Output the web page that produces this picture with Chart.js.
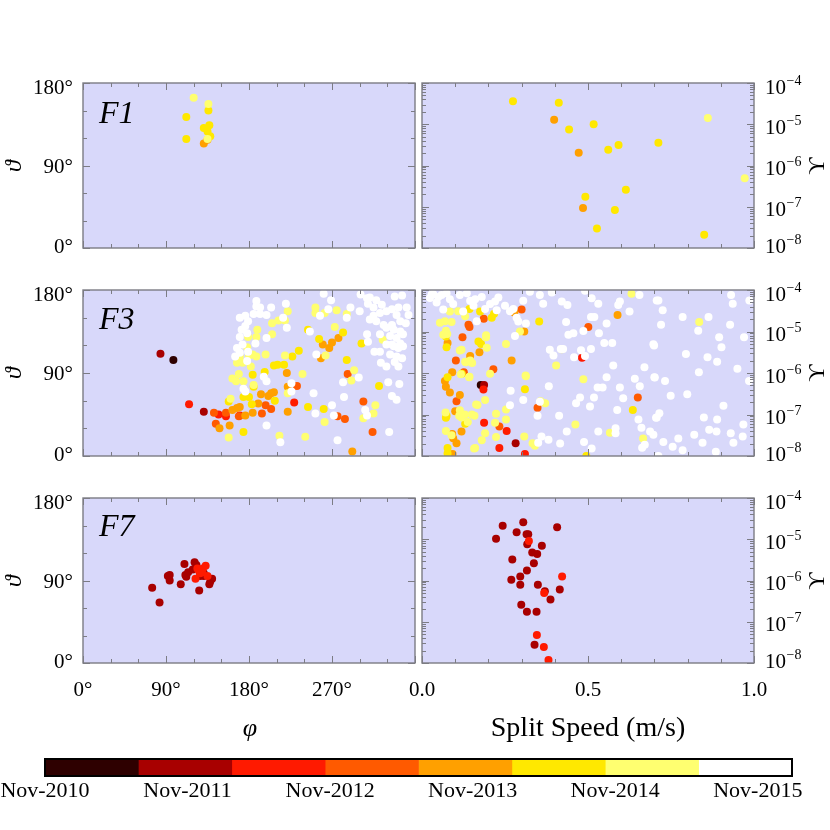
<!DOCTYPE html>
<html><head><meta charset="utf-8">
<script src="https://cdn.jsdelivr.net/npm/chart.js@4.4.1/dist/chart.umd.min.js"></script>
<style>
html,body{margin:0;padding:0;background:#fff;}
#wrap{position:relative;width:830px;height:830px;overflow:hidden;font-family:'Liberation Serif','DejaVu Serif',serif;}
#wrap canvas{position:absolute;left:0;top:0;}
.t{position:absolute;color:#000;white-space:nowrap;line-height:1;transform:translate(-50%,-50%);}
.rot{transform:translate(-50%,-50%) rotate(-90deg);}
.it{font-style:italic;}
</style></head><body><div id="wrap"></div>
<script>
// ---------- DATA ----------
const dateColors = ['#2e0000','#a80000','#ff1a00','#ff5a00','#ffa000','#ffe800','#ffff70','#ffffff'];
const dateTickLabels = ['Nov-2010','Nov-2011','Nov-2012','Nov-2013','Nov-2014','Nov-2015'];
const dateTickYears = [0,1,2,3,4,5];
const colorEdgesYears = [0,0.655,1.31,1.965,2.62,3.275,3.93,4.585,5.24];
const angleTickLabels = ['0°','90°','180°','270°'];
const speedTickLabels = ['0.0','0.5','1.0'];
const thetaTickLabels = ['180°','90°','0°'];
const upsilonExponents = [-4,-5,-6,-7,-8];

// [phi(deg), theta(deg), colourClass]
const f1Angles = [[120,164,6],[136,157,6],[136,150,5],[112,143,5],[137,134,5],[131,131,5],[135,127,5],[138,122,5],[112,119,5],[135,119,6],[135,118,4],[131,114,4]];
// [split speed (m/s), log10(Upsilon), colourClass]
const f1Split = [[0.274,-4.44,5],[0.412,-4.48,5],[0.398,-4.89,4],[0.517,-5.00,5],[0.443,-5.13,5],[0.861,-4.85,6],[0.592,-5.50,5],[0.561,-5.62,5],[0.712,-5.45,5],[0.472,-5.69,4],[0.972,-6.31,6],[0.614,-6.59,5],[0.492,-6.76,5],[0.485,-7.03,4],[0.581,-7.08,5],[0.527,-7.53,5],[0.850,-7.68,5]];

const f3Angles = [
[84,111,1],[98,104,0],[115,56,2],[131,48,1],[142,47,3],[147,45,2],[155,47,3],[155,43,2],[144,35,3],[148,30,4],[159,33,4],[158,20,6],[174,26,5],[169,43,3],[170,44,2],[176,44,4],[162,50,4],[167,52,4],[170,53,4],[158,59,5],[160,62,6],[174,64,5],[180,64,5],[193,67,4],[190,57,4],[198,55,3],[201,65,4],[204,68,4],[207,69,4],[208,60,5],[204,51,3],[194,46,3],[184,47,4],[183,56,5],[185,75,5],[197,91,5],[184,88,5],[221,90,4],[222,75,4],[232,76,3],[222,68,6],[229,58,2],[222,48,4],[238,89,6],[244,53,5],[241,21,6],[213,22,6],[207,98,5],[211,99,5],[218,99,5],[219,109,6],[227,108,5],[234,114,5],[198,110,6],[188,108,6],[184,110,6],[180,109,6],[189,137,6],[205,132,6],[205,144,6],[212,147,6],[219,147,6],[222,157,6],[179,129,6],[188,129,6],[178,118,6],[167,101,6],[170,108,6],[173,101,6],[162,84,6],[166,81,6],[169,89,6],[174,81,6],[185,77,6],[182,97,6],
[244,137,5],[252,161,6],[252,155,6],[262,155,6],[275,158,6],[286,154,6],[273,140,6],[256,127,5],[260,121,4],[267,117,4],[270,123,4],[277,128,4],[282,134,5],[258,106,4],[263,109,6],[286,104,5],[302,122,5],[325,126,6],[321,76,5],[287,89,3],[291,82,6],[294,93,6],[304,59,3],[317,55,6],[315,46,6],[304,41,6],[314,26,3],[276,43,3],[284,40,3],[262,37,6],[261,51,5],[292,5,4],
[188,168,7],[188,162,7],[192,161,7],[204,161,7],[220,165,7],[199,153,7],[192,154,7],[185,154,7],[176,152,7],[170,150,7],[179,146,7],[176,141,7],[172,137,7],[178,133,7],[170,129,7],[187,122,7],[173,121,7],[167,117,7],[170,112,7],[165,108,7],[179,113,7],[178,103,7],[199,128,7],[217,150,7],[221,139,7],[174,73,7],[176,70,7],[196,86,7],[199,81,7],[226,79,7],[199,33,7],[214,15,7],[252,46,7],[270,55,7],[272,44,7],[276,17,7],[253,110,7],[246,135,7],[261,176,7],[269,169,7],[257,152,7],[266,159,7],[290,161,7],[301,175,7],[308,171,7],[318,169,7],[309,165,7],[315,161,7],[338,173,7],[346,174,7],[351,161,7],[342,161,7],[335,159,7],[329,157,7],[322,155,7],[315,152,7],[311,148,7],[318,146,7],[344,146,7],[350,144,7],[329,139,7],[337,137,7],[344,135,7],[322,132,7],[333,130,7],[340,128,7],[347,132,7],[308,132,7],[309,124,7],[316,113,7],[323,101,7],[329,121,7],[335,121,7],[342,117,7],[347,119,7],[322,113,7],[333,110,7],[338,102,7],[342,97,7],[329,97,7],[340,108,7],[346,106,7],[300,157,7],[286,150,7],[282,80,7],[283,64,7],[299,85,7],[331,80,7],[343,78,7],[335,65,7],[340,61,7],[306,50,7],[308,44,7],[332,26,7],[311,172,7],[324,164,7],[340,153,7],[353,153,7],[337,119,7],[344,122,7],[335,142,7],[326,142,7],[250,68,7],[226,70,7]
];

const f3Split = [
[0.300,-4.47,3],[0.278,-4.54,4],[0.186,-4.69,3],[0.140,-4.84,3],[0.143,-4.89,3],[0.122,-5.14,3],[0.077,-5.28,4],[0.074,-5.38,5],[0.072,-5.12,5],[0.064,-5.08,6],[0.170,-5.24,5],[0.178,-5.30,5],[0.193,-5.14,6],[0.195,-5.39,6],[0.173,-5.50,4],[0.145,-5.59,4],[0.132,-5.74,6],[0.151,-5.76,6],[0.102,-5.70,3],[0.119,-5.44,6],[0.253,-5.30,6],[0.270,-5.70,4],[0.215,-5.91,3],[0.091,-5.98,4],[0.117,-6.03,6],[0.126,-5.98,3],[0.143,-6.09,6],[0.205,-6.02,6],[0.069,-6.19,4],[0.072,-6.33,4],[0.084,-6.47,4],[0.114,-6.53,4],[0.104,-6.68,3],[0.100,-6.92,4],[0.114,-6.90,6],[0.129,-7.00,6],[0.071,-6.95,6],[0.072,-7.08,5],[0.150,-7.00,6],[0.177,-6.29,0],[0.187,-6.29,1],[0.185,-6.40,2],[0.190,-6.65,6],[0.163,-6.76,6],[0.310,-6.39,5],[0.312,-6.06,6],[0.357,-6.68,6],[0.348,-6.84,3],[0.187,-7.20,2],[0.190,-7.45,6],[0.220,-7.20,6],[0.233,-7.29,3],[0.255,-7.40,2],[0.253,-7.12,6],[0.282,-7.69,1],[0.233,-7.81,2],[0.223,-7.54,6],[0.308,-7.53,6],[0.310,-7.95,2],[0.333,-7.69,6],[0.340,-7.75,6],[0.160,-7.81,6],[0.119,-7.41,4],[0.091,-7.47,4],[0.094,-7.57,4],[0.104,-7.69,4],[0.092,-7.95,4],[0.077,-7.81,5],[0.089,-7.50,6],[0.138,-7.18,6],[0.072,-7.40,6],[0.353,-4.76,5],[0.308,-5.00,4],[0.295,-5.00,6],[0.501,-4.89,3],[0.421,-5.43,6],[0.482,-5.63,2],[0.404,-5.82,6],[0.486,-6.15,6],[0.462,-7.24,6],[0.495,-8.00,5],[0.589,-4.60,4],[0.631,-4.09,6],[0.835,-4.77,6],[0.650,-6.59,3],[0.635,-6.89,5],[0.566,-7.44,6],[0.666,-7.58,6],[0.371,-6.73,6],
[0.054,-4.79,6],[0.069,-4.75,6],[0.089,-4.77,6],[0.072,-4.98,6],[0.076,-5.06,6],[0.084,-4.52,6],[0.109,-4.51,6],[0.130,-4.63,6],[0.143,-4.46,5],[0.175,-4.52,5],[0.210,-4.67,5],[0.217,-4.57,5],[0.193,-5.09,6],[0.114,-5.46,6],[0.130,-5.73,6],[0.145,-5.70,6],[0.120,-6.02,5],[0.142,-6.10,6],[0.077,-6.10,5],[0.313,-6.08,6],[0.167,-6.77,6],[0.253,-6.88,6],[0.223,-6.98,6],[0.074,-7.03,5],[0.112,-7.03,6],[0.119,-7.07,6],[0.130,-7.22,5],[0.158,-7.03,6],[0.180,-7.62,6],[0.157,-7.82,6],[0.077,-7.94,5],
[0.034,-4.10,7],[0.049,-4.17,7],[0.044,-4.30,7],[0.074,-4.08,7],[0.084,-4.22,7],[0.094,-4.34,7],[0.114,-4.12,7],[0.135,-4.08,7],[0.145,-4.26,7],[0.160,-4.22,7],[0.155,-4.38,7],[0.180,-4.17,7],[0.205,-4.34,7],[0.220,-4.28,7],[0.230,-4.18,7],[0.250,-4.38,7],[0.265,-4.51,7],[0.285,-4.67,7],[0.290,-4.76,7],[0.313,-4.81,7],[0.305,-4.26,7],[0.325,-4.04,7],[0.190,-4.46,7],[0.124,-4.52,7],[0.165,-4.75,7],[0.225,-4.49,7],[0.275,-4.46,7],[0.280,-5.11,7],[0.267,-6.43,7],[0.064,-4.47,7],[0.029,-4.11,7],[0.059,-4.12,7],[0.024,-4.19,7],[0.265,-6.78,7],[0.305,-6.65,7],
[0.355,-4.12,7],[0.391,-4.06,7],[0.365,-4.33,7],[0.421,-4.28,7],[0.438,-4.36,7],[0.491,-4.02,7],[0.511,-4.20,7],[0.531,-4.33,7],[0.596,-4.28,7],[0.591,-4.36,7],[0.655,-4.12,7],[0.625,-4.52,7],[0.707,-4.25,7],[0.434,-4.77,7],[0.509,-4.65,7],[0.519,-4.65,7],[0.556,-4.81,7],[0.486,-4.99,7],[0.456,-5.04,7],[0.441,-5.08,7],[0.533,-5.04,7],[0.549,-5.28,7],[0.573,-5.28,7],[0.697,-5.31,7],[0.385,-5.44,7],[0.396,-5.58,7],[0.418,-5.42,7],[0.425,-5.42,7],[0.458,-5.62,7],[0.479,-5.45,7],[0.491,-5.59,7],[0.509,-5.42,7],[0.576,-5.82,7],[0.670,-5.86,7],[0.700,-6.10,7],[0.556,-6.10,7],[0.641,-6.14,7],[0.656,-6.32,7],[0.382,-6.32,7],[0.529,-6.35,7],[0.544,-6.35,7],[0.596,-6.35,7],[0.476,-6.59,7],[0.518,-6.59,7],[0.606,-6.61,7],[0.464,-6.73,7],[0.506,-6.81,7],[0.355,-6.69,7],[0.348,-7.03,7],[0.413,-7.03,7],[0.588,-6.89,7],[0.652,-7.12,7],[0.705,-7.08,7],[0.360,-7.53,7],[0.381,-7.61,7],[0.350,-7.68,7],[0.436,-7.41,7],[0.416,-7.70,7],[0.488,-7.66,7],[0.511,-7.82,7],[0.531,-7.41,7],[0.583,-7.33,7],[0.583,-7.45,7],[0.661,-7.32,7],[0.687,-7.41,7],[0.697,-7.49,7],[0.671,-7.73,7],[0.663,-7.80,7],
[0.931,-4.12,7],[0.936,-4.33,7],[0.986,-4.25,7],[0.712,-4.25,7],[0.725,-4.49,7],[0.720,-4.84,7],[0.785,-4.65,7],[0.863,-4.65,7],[0.832,-4.98,7],[0.928,-4.84,7],[0.895,-5.14,7],[0.970,-5.14,7],[0.902,-5.38,7],[0.699,-5.34,7],[0.795,-5.54,7],[0.860,-5.62,7],[0.889,-5.73,7],[0.950,-5.90,7],[0.834,-5.98,7],[0.701,-6.11,7],[0.732,-6.19,7],[0.985,-6.19,7],[0.749,-6.55,7],[0.799,-6.51,7],[0.908,-6.79,7],[0.715,-6.97,7],[0.707,-7.07,7],[0.849,-7.07,7],[0.889,-7.12,7],[0.968,-7.24,7],[0.865,-7.37,7],[0.887,-7.41,7],[0.930,-7.45,7],[0.966,-7.53,7],[0.820,-7.49,7],[0.938,-7.68,7],[0.845,-7.68,7],[0.772,-7.58,7],[0.755,-7.78,7],[0.785,-7.86,7],[0.727,-7.66,7],[0.885,-7.90,7],[0.712,-8.00,7]
];

const f7Angles = [[75,82,1],[83,66,1],[92,95,1],[94,96,1],[94,90,1],[106,86,1],[110,108,1],[111,96,1],[112,94,1],[114,99,1],[119,102,1],[121,110,1],[123,107,1],[126,79,1],[131,98,1],[131,95,1],[127,95,1],[137,86,1],[138,89,1],[140,92,1],[124,103,2],[126,100,2],[122,92,2],[127,98,2],[130,103,2],[133,106,2],[135,95,2],[129,99,2]];
const f7Split = [[0.243,-4.67,1],[0.305,-4.59,1],[0.407,-4.71,1],[0.285,-4.83,1],[0.315,-4.88,1],[0.320,-4.88,1],[0.223,-4.99,1],[0.322,-5.04,2],[0.317,-5.12,1],[0.361,-5.16,1],[0.332,-5.32,1],[0.347,-5.36,1],[0.272,-5.49,1],[0.337,-5.58,1],[0.316,-5.76,1],[0.296,-5.90,1],[0.422,-5.90,2],[0.269,-5.98,1],[0.296,-6.10,1],[0.349,-6.10,1],[0.370,-6.26,1],[0.368,-6.30,2],[0.415,-6.22,1],[0.387,-6.46,1],[0.299,-6.59,1],[0.316,-6.76,1],[0.345,-6.76,1],[0.346,-7.32,2],[0.339,-7.56,1],[0.367,-7.61,2],[0.381,-7.93,2]];

// ---------- LAYOUT / STYLE ----------
const FONT = "'Liberation Serif','DejaVu Serif',serif";
const W = 830, H = 830;
const PANEL_BG = '#d8d8fa';
const FRAME = '#7c7c84';
const wrap = document.getElementById('wrap');

function tickList(kind, axis){
  const out = [];
  if (kind==='angle' && axis==='x'){ for(let v=0; v<=360; v+=30) out.push([v, v%90===0]); }
  else if (kind==='angle' && axis==='y'){ for(let v=0; v<=180; v+=30) out.push([v, v%90===0]); }
  else if (kind==='split' && axis==='x'){ for(let i=0;i<=10;i++) out.push([i/10, i%5===0]); }
  else { for(let e=-8;e<=-5;e++) for(let k=1;k<=9;k++) out.push([k*Math.pow(10,e), k===1]); out.push([1e-4,true]); }
  return out;
}

const deco = {
  id:'deco',
  beforeDatasetsDraw(chart, args, o){
    const {ctx, chartArea:a} = chart;
    ctx.save(); ctx.fillStyle = PANEL_BG; ctx.fillRect(a.left, a.top, a.width, a.height); ctx.restore();
  },
  afterDatasetsDraw(chart, args, o){
    const {ctx, chartArea:a, scales} = chart;
    ctx.save();
    ctx.strokeStyle = FRAME; ctx.lineWidth = 1;
    ctx.beginPath();
    for (const [v,major] of o.xTicks){
      const x = Math.round(scales.x.getPixelForValue(v))+0.5;
      const L = major?7:4;
      ctx.moveTo(x,a.bottom); ctx.lineTo(x,a.bottom-L);
      ctx.moveTo(x,a.top); ctx.lineTo(x,a.top+L);
    }
    for (const [v,major] of o.yTicks){
      const y = Math.round(scales.y.getPixelForValue(v))+0.5;
      const L = major?7:4;
      ctx.moveTo(a.left,y); ctx.lineTo(a.left+L,y);
      ctx.moveTo(a.right,y); ctx.lineTo(a.right-L,y);
    }
    ctx.stroke();
    ctx.lineWidth = 1.4;
    ctx.strokeRect(a.left, a.top, a.width, a.height);
    ctx.restore();
  },
  afterDraw(chart, args, o){
    const {ctx, chartArea:a, scales:{y}} = chart;
    ctx.save(); ctx.fillStyle = '#000'; ctx.textBaseline = 'alphabetic';
    if (o.kind==='angle'){
      ctx.font = '21px '+FONT; ctx.textAlign = 'right';
      const vals = [180,90,0];
      vals.forEach((v,i)=>{
        const py = y.getPixelForValue(v);
        const off = i===0 ? 10.5 : (i===vals.length-1 ? 4.5 : 7);
        ctx.fillText(thetaTickLabels[i], a.left-10, py+off);
      });
    } else {
      ctx.textAlign = 'left';
      upsilonExponents.forEach((e,i)=>{
        const py = y.getPixelForValue(Math.pow(10,e));
        const off = i===0 ? 11 : (i===upsilonExponents.length-1 ? 5 : 9.5);
        const x0 = a.right+11;
        ctx.font = '21px '+FONT;
        ctx.fillText('10', x0, py+off);
        const w = ctx.measureText('10').width;
        ctx.font = '14px '+FONT;
        ctx.fillText('\u2212'+Math.abs(e), x0+w+0.5, py+off-9);
      });
    }
    ctx.restore();
  }
};

function makePanel(p){
  const cv = document.createElement('canvas'); cv.width=W; cv.height=H; wrap.appendChild(cv);
  const [l,t,r,b] = p.rect;
  const isAngle = p.kind==='angle';
  const pts = p.data.map(d=>({x:d[0], y: isAngle ? d[1] : Math.pow(10,d[1]), c:d[2]}))
                   .sort((m,n)=>m.c-n.c);
  const xH = p.xLabels ? 45 : 0;
  new Chart(cv, {
    type:'scatter',
    data:{datasets:[{data:pts, showLine:false, clip:0,
      pointRadius:4, pointHoverRadius:4, pointBorderWidth:0, borderWidth:0,
      pointBackgroundColor: ctx => dateColors[ctx.raw ? ctx.raw.c : 0],
      pointBorderColor: 'rgba(0,0,0,0)'}]},
    options:{
      responsive:false, animation:false, events:[],
      layout:{padding:{left:l, top:t, right:W-r, bottom:H-b-xH}},
      plugins:{legend:{display:false}, tooltip:{enabled:false},
        deco:{kind:p.kind, xTicks:tickList(p.kind,'x'), yTicks:tickList(p.kind,'y')}},
      scales:{
        x:{type:'linear', min:0, max: isAngle?360:1, display:p.xLabels,
           grid:{display:false}, border:{display:false},
           afterBuildTicks: s => { s.ticks = (isAngle?[0,90,180,270]:[0,0.5,1]).map(v=>({value:v})); },
           ticks:{autoSkip:false, maxRotation:0, color:'#000', padding:7,
             font:{family:FONT, size:21},
             callback:(v,i)=> isAngle ? angleTickLabels[i] : speedTickLabels[i]},
           afterFit: s => { s.height = xH; }},
        y: isAngle ? {type:'linear', min:0, max:180, display:false}
                   : {type:'logarithmic', min:1e-8, max:1e-4, display:false}
      }
    },
    plugins:[deco]
  });
}

const panels = [
  {rect:[83,83,415,248],  data:f1Angles, kind:'angle', xLabels:false},
  {rect:[422,83,754,248], data:f1Split,  kind:'split', xLabels:false},
  {rect:[83,290,415,456], data:f3Angles, kind:'angle', xLabels:false},
  {rect:[422,290,754,456],data:f3Split,  kind:'split', xLabels:false},
  {rect:[83,498,415,663], data:f7Angles, kind:'angle', xLabels:true},
  {rect:[422,498,754,663],data:f7Split,  kind:'split', xLabels:true}
];
panels.forEach(makePanel);

// ---------- COLOURBAR ----------
const cbFrame = {
  id:'cbFrame',
  afterDatasetsDraw(chart){
    const {ctx, chartArea:a} = chart;
    ctx.save(); ctx.strokeStyle='#000'; ctx.lineWidth=2;
    ctx.strokeRect(a.left, a.top, a.width, a.height); ctx.restore();
  }
};
(function(){
  const cv = document.createElement('canvas'); cv.width=W; cv.height=H; wrap.appendChild(cv);
  new Chart(cv, {
    type:'bar',
    data:{labels:[''], datasets: dateColors.map((c,i)=>({
      data:[[colorEdgesYears[i], colorEdgesYears[i+1]]], backgroundColor:c, borderWidth:0,
      barPercentage:1, categoryPercentage:1, grouped:false}))},
    options:{
      indexAxis:'y', responsive:false, animation:false, events:[],
      layout:{padding:{left:45, right:W-792, top:759, bottom:H-776-40}},
      plugins:{legend:{display:false}, tooltip:{enabled:false}},
      scales:{
        x:{type:'linear', min:0, max:colorEdgesYears[colorEdgesYears.length-1],
           grid:{display:false}, border:{display:false},
           afterBuildTicks: s => { s.ticks = dateTickYears.map(v=>({value:v})); },
           ticks:{autoSkip:false, maxRotation:0, color:'#000', padding:-6,
             font:{family:FONT, size:22}, callback:(v,i)=>dateTickLabels[i]},
           afterFit: s => { s.height = 40; }},
        y:{display:false}
      }
    },
    plugins:[cbFrame]
  });
})();

// ---------- TEXT LABELS ----------
function addText(txt, x, y, cls, size){
  const d = document.createElement('div');
  d.className = 't '+cls; d.textContent = txt;
  d.style.left = x+'px'; d.style.top = y+'px'; d.style.fontSize = size+'px';
  wrap.appendChild(d); return d;
}
const panelNames = ['F1','F3','F7'];
const rowMid = [165.5, 373, 580.5];
panelNames.forEach((n,i)=>{
  const d = document.createElement('div');
  d.style.cssText = 'position:absolute;left:99px;font-style:italic;font-size:32px;line-height:1;color:#000;';
  d.style.top = ([96,302,509][i])+'px';
  d.textContent = n; wrap.appendChild(d);
  addText('\u03D1', 12.5, rowMid[i], 'rot it', 24);
  addText('\u03D2', 816, rowMid[i], 'rot', 24);
});
addText('\u03C6', 250, 728, 'it', 26);
addText('Split Speed (m/s)', 588, 727, '', 28);
</script></body></html>
